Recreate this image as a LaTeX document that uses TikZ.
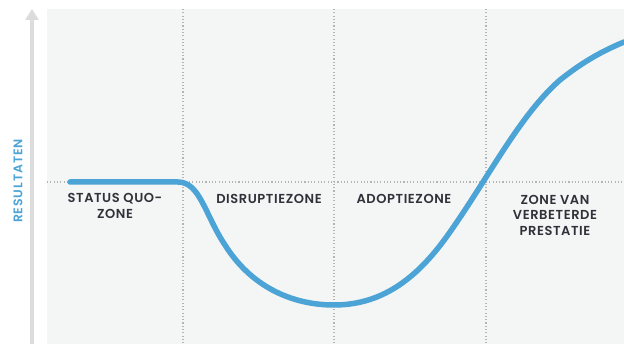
\documentclass[tikz,border=0pt]{standalone}
\usepackage{fontspec}
\setmainfont{Poppins}[BoldFont={Poppins SemiBold}]
\newfontfamily\zonefont{Poppins SemiBold}[LetterSpace=4.5]
\newfontfamily\axisfont{Poppins SemiBold}[LetterSpace=7]
\usepackage{xcolor}
\usepackage{tikz}
\usetikzlibrary{arrows.meta,positioning,calc}

\definecolor{curveblue}{HTML}{4BA3D6}
\definecolor{panelgray}{HTML}{F4F5F5}
\definecolor{axisgray}{HTML}{DCDCDC}
\definecolor{gridgray}{HTML}{B4B4B4}
\definecolor{labeldark}{HTML}{2F3239}

\begin{document}
\begin{tikzpicture}[x=1pt, y=-1pt,
  zonelabel/.style={font=\zonefont\fontsize{13}{15.5}\selectfont, text=labeldark, align=center, inner sep=0pt},
  gridline/.style={gridgray, line width=1.1pt, dash pattern=on 1.1pt off 2.2pt},
  curve/.style={curveblue, line width=5.5pt, line cap=round}]
  \useasboundingbox (0,0) rectangle (624,344);

  % Draw the background panel
  \fill[panelgray] (47,9) rectangle (624,344);

  % Vertical axis with arrow
  \coordinate (axisbot) at (32,344);
  \coordinate (axistop) at (32,9);
  \draw[axisgray, line width=4.5pt, -{Triangle[width=13pt, length=11pt]}] (axisbot) -- (axistop);
  \node[rotate=90, text=curveblue, font=\axisfont\fontsize{12.5}{14}\selectfont] (resultaten) at (18,181) {RESULTATEN};

  % Dotted zone borders
  \foreach \xx in {183,334,486}
    \draw[gridline] (\xx,9) -- (\xx,344);
  \draw[gridline] (47,182) -- (624,182);

  % The curve
  \draw[curve] (70,182) -- (178,182)
    .. controls (200,182) and (205,215) .. (225,245)
    .. controls (250,285) and (290,305) .. (334,305)
    .. controls (385,305) and (420,275) .. (450,232)
    .. controls (490,175) and (520,115) .. (560,80)
    .. controls (585,60) and (605,50) .. (624,42);

  % Zone labels
  \node[zonelabel] (statusquo) at (115,206) {STATUS QUO-\\ZONE};
  \node[zonelabel] (disruptie) at (269,199) {DISRUPTIEZONE};
  \node[zonelabel] (adoptie) at (404,199) {ADOPTIEZONE};
  \node[zonelabel] (verbeterd) at (555,215) {ZONE VAN\\VERBETERDE\\PRESTATIE};
\end{tikzpicture}
\end{document}
